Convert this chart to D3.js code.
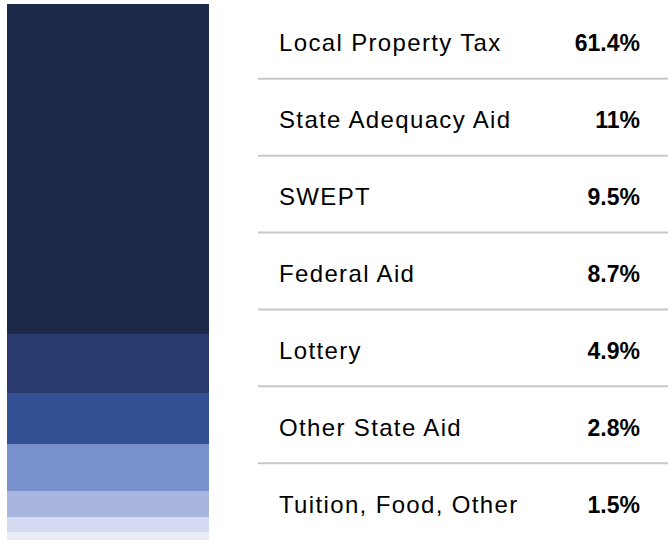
<!DOCTYPE html>
<html>
<head>
<meta charset="utf-8">
<script src="https://cdn.jsdelivr.net/npm/d3@7"></script>
<style>
  body { margin: 0; background: #fff; }
  text { font-family: "Liberation Sans", Arial, sans-serif; }
</style>
</head>
<body>
<svg id="chart" width="668" height="541"></svg>
<script>
// funding sources, top of the stack first
const sources = ["Local Property Tax", "State Adequacy Aid", "SWEPT", "Federal Aid",
  "Lottery", "Other State Aid", "Tuition, Food, Other"];
const shares = [61.4, 11, 9.5, 8.7, 4.9, 2.8, 1.5];
const shareLabels = ["61.4%", "11%", "9.5%", "8.7%", "4.9%", "2.8%", "1.5%"];
const colours = ["#1c2949", "#2a3b6f", "#345196", "#7891cd", "#a8b6df", "#d4dbf0", "#e8ecf7"];

const svg = d3.select("#chart");

const total = d3.sum(shares);
const y = d3.scaleLinear()
  .domain([0, total])
  .range([4, 540]);

// running start of each segment
let acc = 0;
const stack = shares.map((v, i) => {
  const d = { name: sources[i], value: v, y0: acc, y1: acc + v, colour: colours[i] };
  acc += v;
  return d;
});

// the single stacked bar
svg.append("g")
  .selectAll("rect")
  .data(stack)
  .join("rect")
  .attr("x", 7)
  .attr("width", 202)
  .attr("y", d => y(d.y0))
  .attr("height", d => y(d.y1) - y(d.y0))
  .attr("fill", d => d.colour)
  .attr("shape-rendering", "crispEdges");

// table on the right
const rows = d3.scaleBand()
  .domain(sources)
  .range([2, 540]);

const table = svg.append("g");

table.selectAll("line")
  .data(sources.slice(0, -1))
  .join("line")
  .attr("x1", 258)
  .attr("x2", 668)
  .attr("y1", d => rows(d) + rows.bandwidth())
  .attr("y2", d => rows(d) + rows.bandwidth())
  .attr("stroke", "#c8c8c8")
  .attr("stroke-width", 2);

table.selectAll(".label")
  .data(sources)
  .join("text")
  .attr("class", "label")
  .attr("x", 279)
  .attr("y", d => rows(d) + rows.bandwidth() / 2 + 11)
  .style("font-size", "24px")
  .style("letter-spacing", "1.35px")
  .attr("fill", "#000")
  .text(d => d);

table.selectAll(".value")
  .data(sources)
  .join("text")
  .attr("class", "value")
  .attr("x", 640)
  .attr("y", d => rows(d) + rows.bandwidth() / 2 + 11)
  .attr("text-anchor", "end")
  .style("font-size", "23px")
  .style("font-weight", "bold")
  .attr("fill", "#000")
  .text((d, i) => shareLabels[i]);
</script>
</body>
</html>
